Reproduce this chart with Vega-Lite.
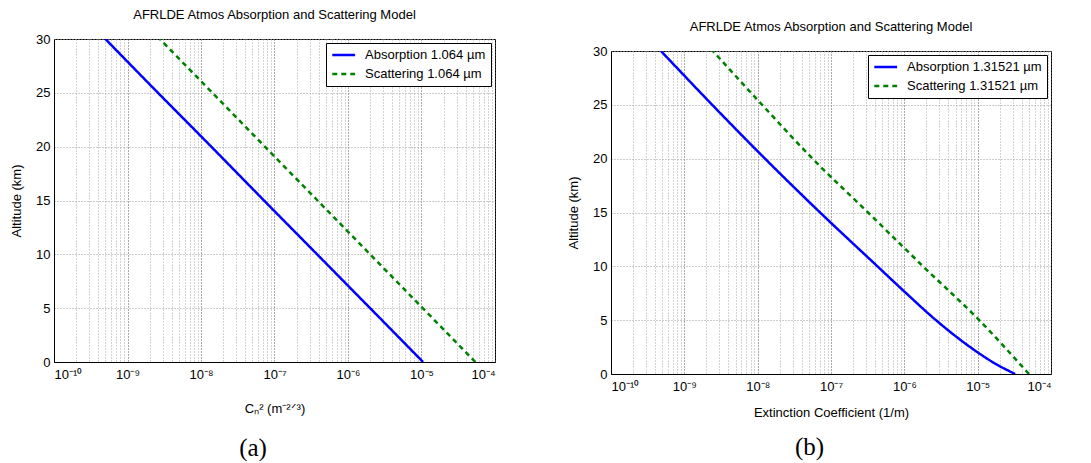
{
  "$schema": "https://vega.github.io/schema/vega-lite/v6.json",
  "background": "white",
  "padding": {"left": 10, "top": 1, "right": 5, "bottom": 0},
  "datasets": {
    "a": [
      {"series": "Absorption 1.064 µm", "alt": 0, "value": 1.05e-5},
      {"series": "Absorption 1.064 µm", "alt": 5, "value": 2.0e-6},
      {"series": "Absorption 1.064 µm", "alt": 10, "value": 3.8e-7},
      {"series": "Absorption 1.064 µm", "alt": 15, "value": 7.2e-8},
      {"series": "Absorption 1.064 µm", "alt": 20, "value": 1.38e-8},
      {"series": "Absorption 1.064 µm", "alt": 25, "value": 2.6e-9},
      {"series": "Absorption 1.064 µm", "alt": 30, "value": 5.0e-10},
      {"series": "Scattering 1.064 µm", "alt": 0, "value": 5.4e-5},
      {"series": "Scattering 1.064 µm", "alt": 5, "value": 1.04e-5},
      {"series": "Scattering 1.064 µm", "alt": 10, "value": 2.0e-6},
      {"series": "Scattering 1.064 µm", "alt": 15, "value": 3.85e-7},
      {"series": "Scattering 1.064 µm", "alt": 20, "value": 7.4e-8},
      {"series": "Scattering 1.064 µm", "alt": 25, "value": 1.43e-8},
      {"series": "Scattering 1.064 µm", "alt": 30, "value": 2.75e-9}
    ],
    "b": [
      {"series": "Absorption 1.31521 µm", "alt": 0, "value": 3.24e-5},
      {"series": "Absorption 1.31521 µm", "alt": 1, "value": 1.7e-5},
      {"series": "Absorption 1.31521 µm", "alt": 2.5, "value": 7.9e-6},
      {"series": "Absorption 1.31521 µm", "alt": 5, "value": 2.7e-6},
      {"series": "Absorption 1.31521 µm", "alt": 7.5, "value": 1.06e-6},
      {"series": "Absorption 1.31521 µm", "alt": 10, "value": 4.3e-7},
      {"series": "Absorption 1.31521 µm", "alt": 15, "value": 7.1e-8},
      {"series": "Absorption 1.31521 µm", "alt": 20, "value": 1.26e-8},
      {"series": "Absorption 1.31521 µm", "alt": 25, "value": 2.4e-9},
      {"series": "Absorption 1.31521 µm", "alt": 30, "value": 4.8e-10},
      {"series": "Scattering 1.31521 µm", "alt": 0, "value": 5.0e-5},
      {"series": "Scattering 1.31521 µm", "alt": 5, "value": 1.05e-5},
      {"series": "Scattering 1.31521 µm", "alt": 10, "value": 1.8e-6},
      {"series": "Scattering 1.31521 µm", "alt": 15, "value": 3.2e-7},
      {"series": "Scattering 1.31521 µm", "alt": 20, "value": 5.6e-8},
      {"series": "Scattering 1.31521 µm", "alt": 25, "value": 1.15e-8},
      {"series": "Scattering 1.31521 µm", "alt": 30, "value": 2.45e-9}
    ]
  },
  "config": {
    "font": "Liberation Sans",
    "view": {"stroke": "black", "strokeWidth": 1},
    "axis": {
      "labelFont": "Liberation Sans",
      "labelFontSize": 13,
      "labelColor": "black",
      "titleFont": "Liberation Sans",
      "titleFontSize": 13,
      "titleFontWeight": "normal",
      "titleColor": "black",
      "domainColor": "black",
      "domainWidth": 1,
      "tickColor": "black",
      "grid": true,
      "gridDash": [1, 2],
      "gridColor": "#9a9a9a",
      "gridWidth": 1
    },
    "legend": {
      "strokeColor": "black",
      "fillColor": "white",
      "padding": 5,
      "symbolType": "M-1,0L3,0",
      "symbolSize": 130,
      "symbolStrokeWidth": 2.5,
      "symbolFillColor": "transparent",
      "labelFont": "Liberation Sans",
      "labelFontSize": 13,
      "labelColor": "black",
      "labelOffset": 20,
      "rowPadding": 5
    }
  },
  "spacing": 71,
  "resolve": {
    "scale": {"color": "independent", "strokeDash": "independent", "x": "independent", "y": "independent"},
    "legend": {"color": "independent", "strokeDash": "independent"}
  },
  "hconcat": [
    {
      "title": {"text": "(a)", "orient": "bottom", "frame": "bounds", "anchor": "middle", "font": "Liberation Serif", "fontSize": 25, "fontWeight": "normal", "color": "black", "offset": 20},
      "spacing": 0,
      "resolve": {
        "scale": {"color": "independent", "strokeDash": "independent", "x": "independent", "y": "independent"},
        "legend": {"color": "independent", "strokeDash": "independent"}
      },
      "vconcat": [
        {
          "width": 441,
          "height": 1,
          "view": {"stroke": null},
          "data": {"values": [{"k": 1}]},
          "mark": {"type": "point", "opacity": 0},
          "encoding": {}
        },
        {
          "width": 441,
          "height": 323,
          "title": {"text": "AFRLDE Atmos Absorption and Scattering Model", "font": "Liberation Sans", "fontSize": 13, "fontWeight": "normal", "color": "black", "offset": 11},
          "data": {"name": "a"},
          "mark": {"type": "line", "strokeWidth": 2.5, "clip": true, "interpolate": "monotone"},
          "encoding": {
            "x": {
              "field": "value", "type": "quantitative",
              "scale": {"type": "log", "domain": [1e-10, 1e-4], "nice": false},
              "axis": {
                "title": "Cₙ² (m⁻²ᐟ³)",
                "titlePadding": 21,
                "labelPadding": 6,
                "tickSize": 0,
                "values": [1e-10,2e-10,3e-10,4e-10,5e-10,6e-10,7e-10,8e-10,9e-10,1e-9,2e-9,3e-9,4e-9,5e-9,6e-9,7e-9,8e-9,9e-9,1e-8,2e-8,3e-8,4e-8,5e-8,6e-8,7e-8,8e-8,9e-8,1e-7,2e-7,3e-7,4e-7,5e-7,6e-7,7e-7,8e-7,9e-7,1e-6,2e-6,3e-6,4e-6,5e-6,6e-6,7e-6,8e-6,9e-6,1e-5,2e-5,3e-5,4e-5,5e-5,6e-5,7e-5,8e-5,9e-5,1e-4],
                "labelExpr": "abs(log(datum.value)/LN10 - round(log(datum.value)/LN10)) < 0.001 ? ['10⁻¹⁰','10⁻⁹','10⁻⁸','10⁻⁷','10⁻⁶','10⁻⁵','10⁻⁴'][round(log(datum.value)/LN10)+10] : ''",
                "labelOverlap": false,
                "gridColor": {"condition": {"test": "abs(log(datum.value)/LN10 - round(log(datum.value)/LN10)) < 0.001", "value": "#555555"}, "value": "#a8a8a8"}
              }
            },
            "y": {
              "field": "alt", "type": "quantitative",
              "scale": {"domain": [0, 30], "nice": false},
              "axis": {"title": "Altitude (km)", "values": [0, 5, 10, 15, 20, 25, 30], "tickSize": 0, "labelPadding": 4, "titlePadding": 12}
            },
            "color": {
              "field": "series", "type": "nominal",
              "scale": {"domain": ["Absorption 1.064 µm", "Scattering 1.064 µm"], "range": ["#0000ff", "#008000"]},
              "legend": {"title": null, "orient": "top-right", "offset": 4}
            },
            "strokeDash": {
              "field": "series", "type": "nominal",
              "scale": {"domain": ["Absorption 1.064 µm", "Scattering 1.064 µm"], "range": [[1, 0], [5, 4]]},
              "legend": {"title": null, "orient": "top-right", "offset": 4}
            },
            "order": {"field": "alt", "type": "quantitative"}
          }
        }
      ]
    },
    {
      "title": {"text": "(b)", "orient": "bottom", "frame": "bounds", "anchor": "middle", "font": "Liberation Serif", "fontSize": 25, "fontWeight": "normal", "color": "black", "offset": 15},
      "spacing": 12,
      "resolve": {
        "scale": {"color": "independent", "strokeDash": "independent", "x": "independent", "y": "independent"},
        "legend": {"color": "independent", "strokeDash": "independent"}
      },
      "vconcat": [
        {
          "width": 440,
          "height": 1,
          "view": {"stroke": null},
          "data": {"values": [{"k": 1}]},
          "mark": {"type": "point", "opacity": 0},
          "encoding": {}
        },
        {
          "width": 440,
          "height": 323,
          "title": {"text": "AFRLDE Atmos Absorption and Scattering Model", "font": "Liberation Sans", "fontSize": 13, "fontWeight": "normal", "color": "black", "offset": 11},
          "data": {"name": "b"},
          "mark": {"type": "line", "strokeWidth": 2.5, "clip": true, "interpolate": "monotone"},
          "encoding": {
            "x": {
              "field": "value", "type": "quantitative",
              "scale": {"type": "log", "domain": [1e-10, 1e-4], "nice": false},
              "axis": {
                "title": "Extinction Coefficient (1/m)",
                "titlePadding": 13,
                "labelPadding": 6,
                "tickSize": 0,
                "values": [1e-10,2e-10,3e-10,4e-10,5e-10,6e-10,7e-10,8e-10,9e-10,1e-9,2e-9,3e-9,4e-9,5e-9,6e-9,7e-9,8e-9,9e-9,1e-8,2e-8,3e-8,4e-8,5e-8,6e-8,7e-8,8e-8,9e-8,1e-7,2e-7,3e-7,4e-7,5e-7,6e-7,7e-7,8e-7,9e-7,1e-6,2e-6,3e-6,4e-6,5e-6,6e-6,7e-6,8e-6,9e-6,1e-5,2e-5,3e-5,4e-5,5e-5,6e-5,7e-5,8e-5,9e-5,1e-4],
                "labelExpr": "abs(log(datum.value)/LN10 - round(log(datum.value)/LN10)) < 0.001 ? ['10⁻¹⁰','10⁻⁹','10⁻⁸','10⁻⁷','10⁻⁶','10⁻⁵','10⁻⁴'][round(log(datum.value)/LN10)+10] : ''",
                "labelOverlap": false,
                "gridColor": {"condition": {"test": "abs(log(datum.value)/LN10 - round(log(datum.value)/LN10)) < 0.001", "value": "#555555"}, "value": "#a8a8a8"}
              }
            },
            "y": {
              "field": "alt", "type": "quantitative",
              "scale": {"domain": [0, 30], "nice": false},
              "axis": {"title": "Altitude (km)", "values": [0, 5, 10, 15, 20, 25, 30], "tickSize": 0, "labelPadding": 4, "titlePadding": 12}
            },
            "color": {
              "field": "series", "type": "nominal",
              "scale": {"domain": ["Absorption 1.31521 µm", "Scattering 1.31521 µm"], "range": ["#0000ff", "#008000"]},
              "legend": {"title": null, "orient": "top-right", "offset": 4}
            },
            "strokeDash": {
              "field": "series", "type": "nominal",
              "scale": {"domain": ["Absorption 1.31521 µm", "Scattering 1.31521 µm"], "range": [[1, 0], [5, 4]]},
              "legend": {"title": null, "orient": "top-right", "offset": 4}
            },
            "order": {"field": "alt", "type": "quantitative"}
          }
        }
      ]
    }
  ]
}
